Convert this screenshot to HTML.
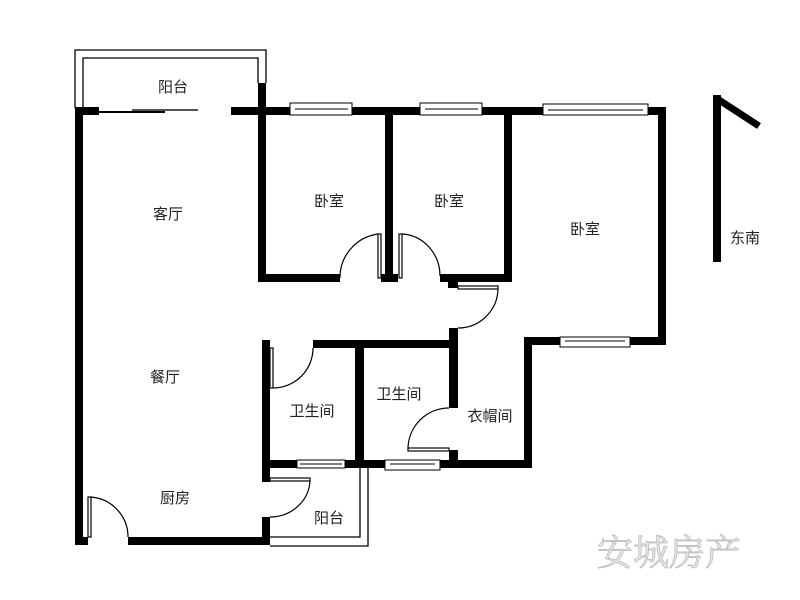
<!DOCTYPE html>
<html><head><meta charset="utf-8"><style>
html,body{margin:0;padding:0;background:#fff;width:800px;height:600px;overflow:hidden}
svg text{font-family:"Liberation Sans","Noto Sans CJK SC",sans-serif;fill:#222}
</style></head><body>
<svg width="800" height="600" viewBox="0 0 800 600" xmlns="http://www.w3.org/2000/svg">
<!-- upper balcony outline -->
<g fill="none" stroke="#000" stroke-width="1.3">
<polyline points="75,108 75,50 266,50 266,83"/>
<polyline points="83,108 83,58 258,58 258,83"/>
<!-- lower balcony -->
<polyline points="360,468 360,537 270,537"/>
<polyline points="368,468 368,546 270,546"/>
</g>
<g fill="#000">
<!-- outer left wall -->
<rect x="75" y="107" width="8" height="438"/>
<rect x="75" y="107" width="24" height="8"/>
<rect x="75" y="537" width="13" height="8"/>
<!-- top walls -->
<rect x="231" y="107" width="435" height="8"/>
<rect x="258" y="83" width="8" height="32"/>
<!-- bedroom1 -->
<rect x="258" y="107" width="8" height="175"/>
<rect x="258" y="274" width="82" height="8"/>
<!-- wall between bed1 and bed2 -->
<rect x="385" y="107" width="8" height="175"/>
<rect x="381" y="274" width="17" height="8"/>
<!-- bed2 bottom -->
<rect x="440" y="274" width="72" height="8"/>
<rect x="504" y="107" width="8" height="175"/>
<rect x="448" y="282" width="10" height="6"/>
<!-- bed3 -->
<rect x="658" y="107" width="8" height="238"/>
<rect x="524" y="337" width="142" height="8"/>
<rect x="524" y="337" width="8" height="131"/>
<!-- corridor / bathrooms -->
<rect x="449" y="328" width="9" height="80"/>
<rect x="449" y="450" width="9" height="18"/>
<rect x="313" y="340" width="145" height="8"/>
<rect x="262" y="340" width="8" height="142"/>
<rect x="355" y="340" width="9" height="128"/>
<rect x="262" y="460" width="270" height="8"/>
<!-- kitchen -->
<rect x="128" y="537" width="142" height="8"/>
<rect x="262" y="517" width="8" height="28"/>
<!-- compass -->
<rect x="713" y="95" width="8" height="167"/>
</g>
<line x1="716" y1="98" x2="759" y2="126" stroke="#000" stroke-width="7"/>
<!-- windows (white with thin lines) -->
<g fill="#fff" stroke="#000" stroke-width="1">
<rect x="290" y="103" width="62" height="12"/>
<rect x="420" y="103" width="62" height="12"/>
<rect x="543" y="104" width="105" height="11"/>
<rect x="560" y="337" width="70" height="10"/>
<rect x="297" y="460" width="48" height="8"/>
<rect x="385" y="460" width="55" height="10"/>
</g>
<g stroke="#000" stroke-width="1">
<line x1="295" y1="109" x2="348" y2="109"/>
<line x1="425" y1="109" x2="478" y2="109"/>
<line x1="548" y1="110" x2="643" y2="110"/>
<line x1="565" y1="341" x2="625" y2="341"/>
<line x1="300" y1="464" x2="342" y2="464"/>
<line x1="390" y1="464" x2="435" y2="464"/>
</g>
<!-- sliding door -->
<line x1="99" y1="112" x2="165" y2="112" stroke="#000" stroke-width="2"/>
<line x1="132" y1="110" x2="198" y2="110" stroke="#555" stroke-width="2"/>
<!-- doors -->
<g fill="none" stroke="#000" stroke-width="1.2">
<rect x="378" y="234" width="3" height="44"/>
<path d="M378,234 A44,44 0 0 0 340,278"/>
<rect x="399" y="234" width="3" height="44"/>
<path d="M402,234 A40,42 0 0 1 440,276"/>
<rect x="458" y="286" width="40" height="3"/>
<path d="M498,289 A40,40 0 0 1 458,328"/>
<rect x="270" y="348" width="3" height="40"/>
<path d="M273,388 A40,40 0 0 0 313,348"/>
<rect x="408" y="448" width="41" height="3"/>
<path d="M408,448 A41,41 0 0 1 449,408"/>
<rect x="270" y="478" width="40" height="3"/>
<path d="M310,481 A40,38 0 0 1 270,517"/>
<rect x="88" y="497" width="3" height="40"/>
<path d="M90,497 A40,40 0 0 1 128,537"/>
</g>
<!-- labels -->
<g font-size="15" text-anchor="middle">
<text x="173" y="92">阳台</text>
<text x="168" y="219">客厅</text>
<text x="329" y="206">卧室</text>
<text x="449" y="206">卧室</text>
<text x="585" y="234">卧室</text>
<text x="165" y="382">餐厅</text>
<text x="312" y="416">卫生间</text>
<text x="399" y="399">卫生间</text>
<text x="490" y="421">衣帽间</text>
<text x="175" y="503">厨房</text>
<text x="329" y="523">阳台</text>
<text x="745" y="243">东南</text>
</g>
<text x="597" y="565" font-size="36" style="fill:#e8e8e8;stroke:#bbb;stroke-width:0.8;font-family:'Noto Serif CJK SC','Liberation Serif',serif">安城房产</text>
</svg>
</body></html>
